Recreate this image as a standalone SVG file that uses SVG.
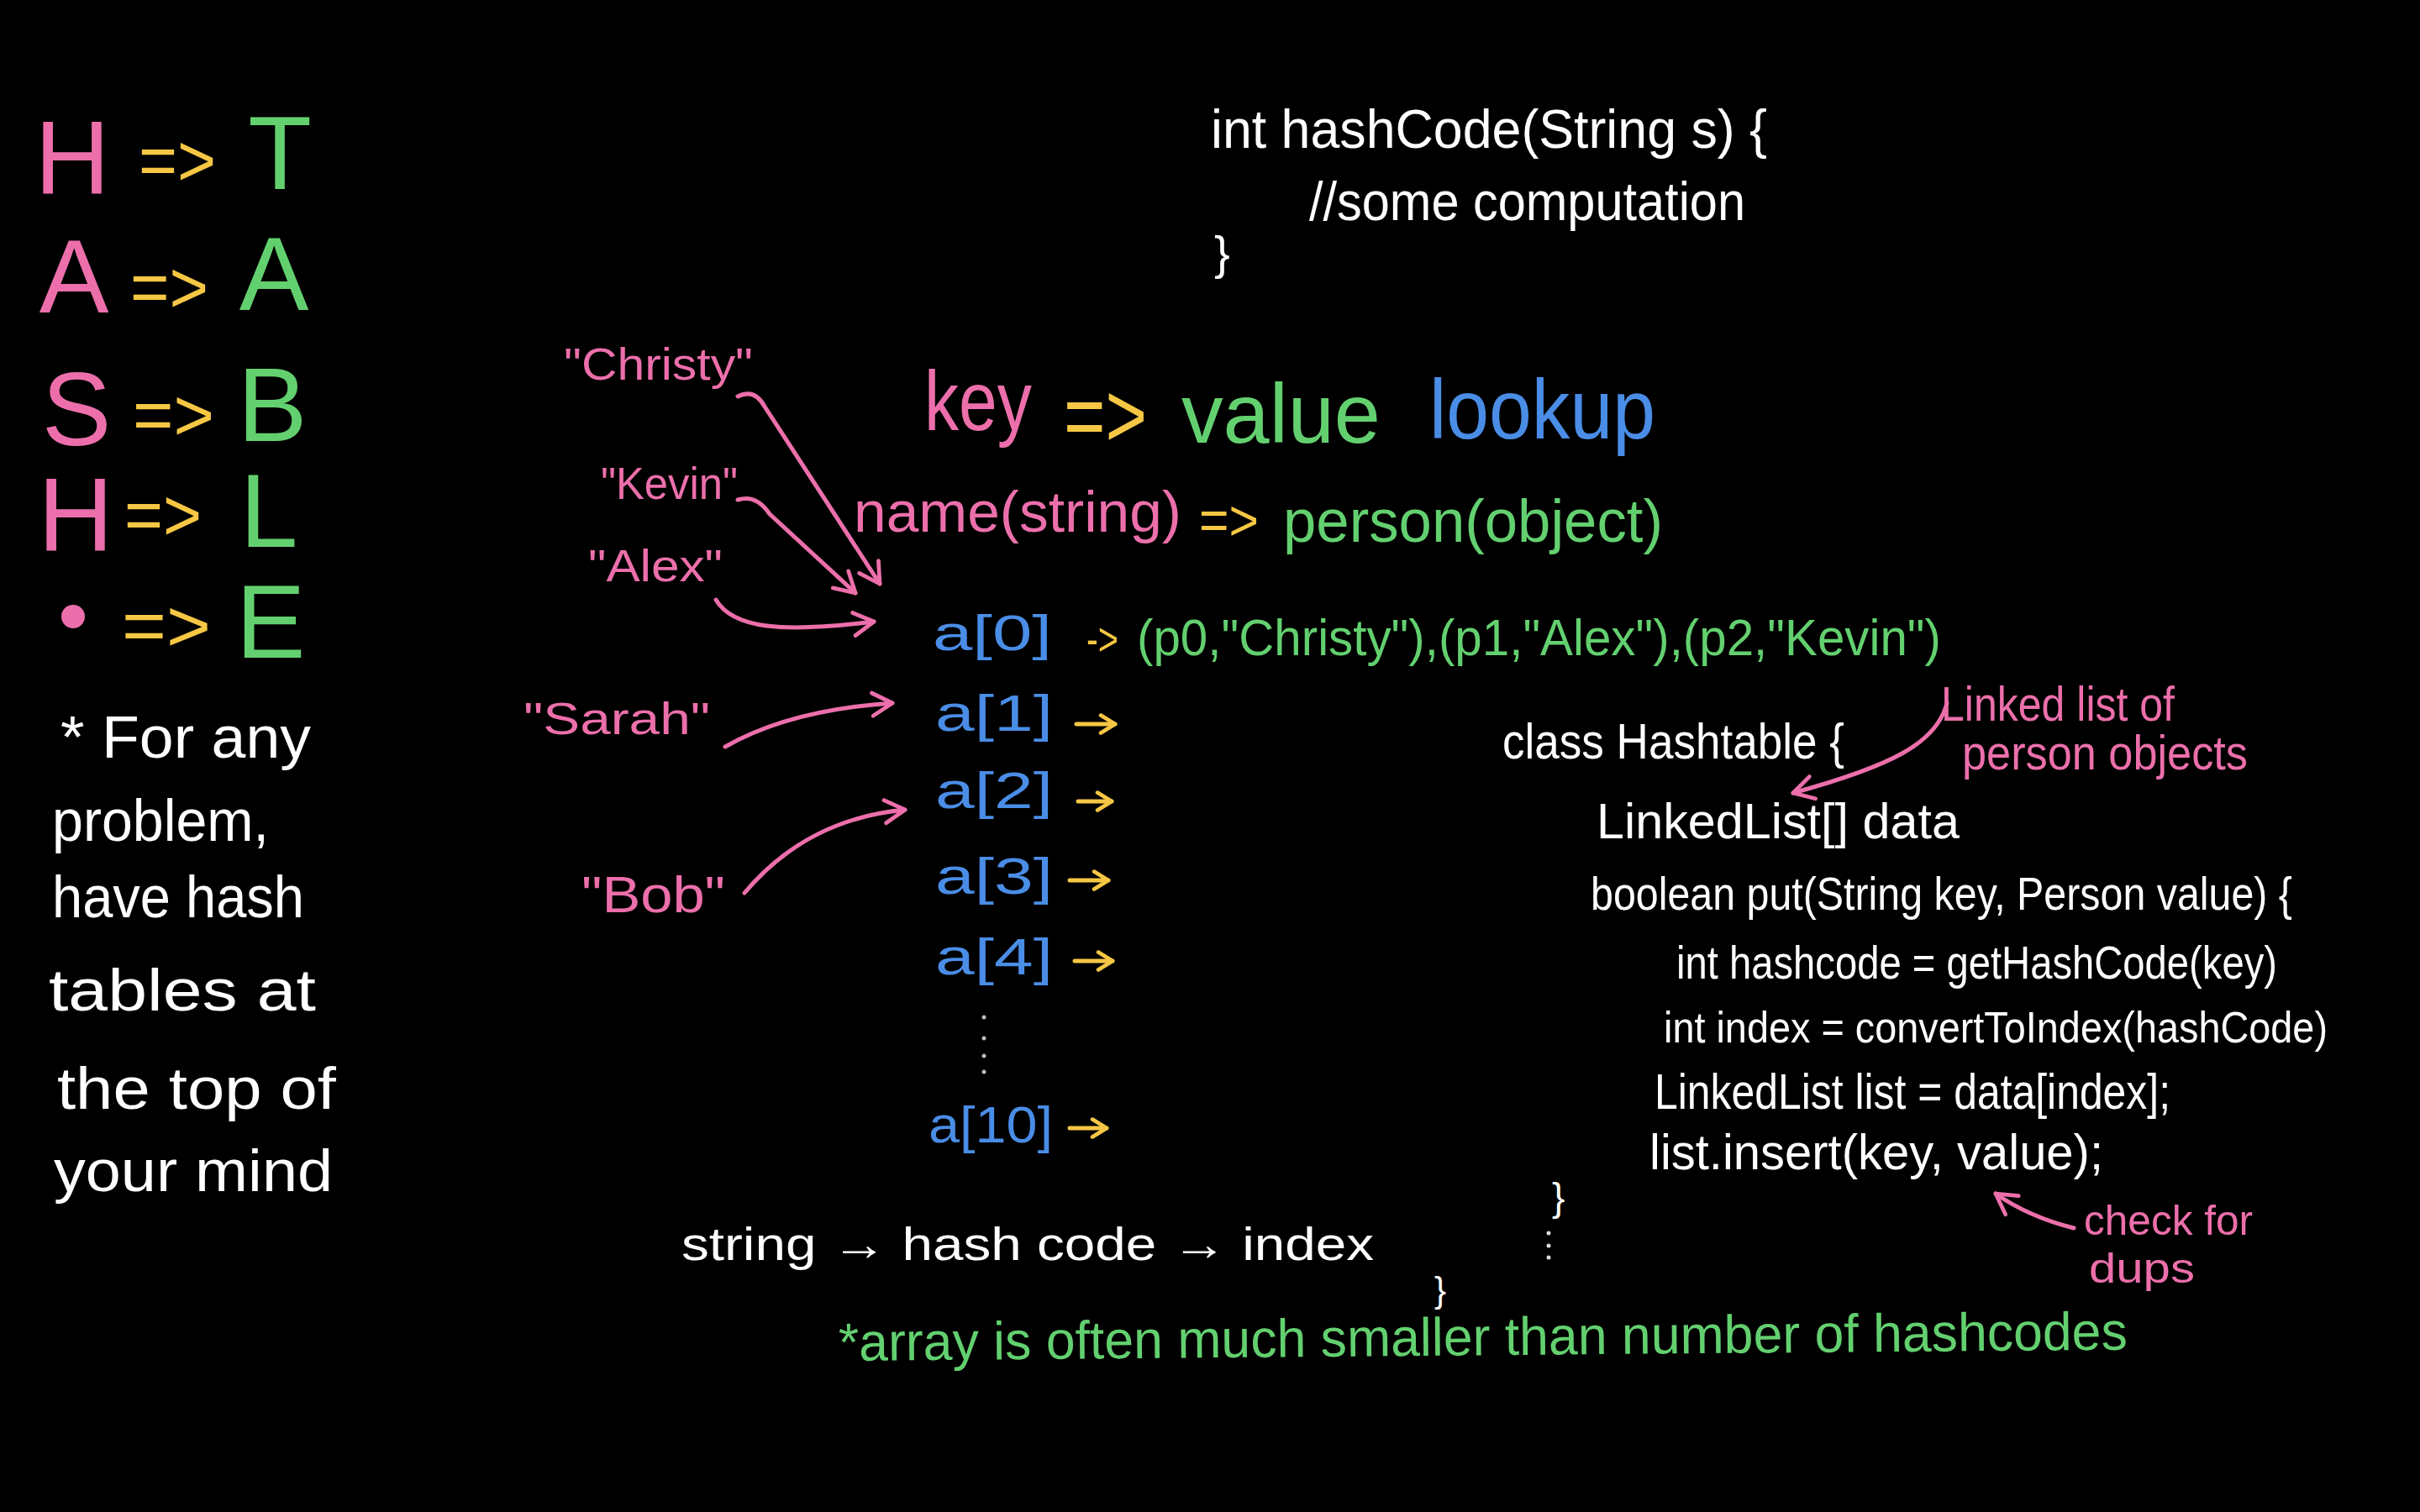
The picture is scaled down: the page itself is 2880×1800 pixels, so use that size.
<svg xmlns="http://www.w3.org/2000/svg" width="2880" height="1800" viewBox="0 0 2880 1800">
<defs>
<style>
text{font-family:"Liberation Sans","Noto Sans",Arial,sans-serif;}
.pk{fill:#EC6FAB}.yl{fill:#F6C744}.gr{fill:#63D06F}.bl{fill:#4A8DE6}.wh{fill:#FFFFFF}
.big{font-size:124px}
.arrowtxt{font-size:88px}
.note{font-size:70px}
.name{font-size:54px}
.slot{font-size:62px}
.code{font-size:60px}
.conn{fill:none;stroke:#EC6FAB;stroke-width:5;stroke-linecap:round;stroke-linejoin:round}
.yconn{fill:none;stroke:#F6C744;stroke-width:5;stroke-linecap:round}
</style>
<marker id="ahp" viewBox="0 0 20 20" refX="17" refY="10" markerWidth="34" markerHeight="34" markerUnits="userSpaceOnUse" orient="auto">
<path d="M3,2 L17,10 L3,18" fill="none" stroke="#EC6FAB" stroke-width="2.8" stroke-linecap="round" stroke-linejoin="round"/>
</marker>
<marker id="ahy" viewBox="0 0 20 20" refX="17" refY="10" markerWidth="26" markerHeight="26" markerUnits="userSpaceOnUse" orient="auto">
<path d="M4,2 L17,10 L4,18" fill="none" stroke="#F6C744" stroke-width="3.6" stroke-linecap="round" stroke-linejoin="round"/>
</marker>
</defs>
<rect width="2880" height="1800" fill="#000000"/>

<g id="acrostic">
<g id="row-h1"><text class="big pk" x="86" y="231" text-anchor="middle">H</text><text class="arrowtxt yl" x="165" y="221" textLength="92" lengthAdjust="spacingAndGlyphs">=&gt;</text><text class="big gr" x="333" y="225" text-anchor="middle">T</text></g>
<g id="row-a"><text class="big pk" x="88" y="372" text-anchor="middle">A</text><text class="arrowtxt yl" x="155" y="372" textLength="93" lengthAdjust="spacingAndGlyphs">=&gt;</text><text class="big gr" x="326" y="369" text-anchor="middle">A</text></g>
<g id="row-s"><text class="big pk" x="91" y="530" text-anchor="middle">S</text><text class="arrowtxt yl" x="158" y="524" textLength="97" lengthAdjust="spacingAndGlyphs">=&gt;</text><text class="big gr" x="324" y="525" text-anchor="middle">B</text></g>
<g id="row-h2"><text class="big pk" x="90" y="656" text-anchor="middle">H</text><text class="arrowtxt yl" x="148" y="643" textLength="92" lengthAdjust="spacingAndGlyphs">=&gt;</text><text class="big gr" x="320" y="651" text-anchor="middle">L</text></g>
<g id="row-dot"><circle cx="87" cy="734" r="14" fill="#EC6FAB"/><text class="arrowtxt yl" x="145" y="775" textLength="106" lengthAdjust="spacingAndGlyphs">=&gt;</text><text class="big gr" x="322" y="783" text-anchor="middle">E</text></g>
</g>

<g id="left-note" class="note wh">
<text x="72" y="902" textLength="298" lengthAdjust="spacingAndGlyphs">* For any</text>
<text x="62" y="1001" textLength="258" lengthAdjust="spacingAndGlyphs">problem,</text>
<text x="62" y="1092" textLength="300" lengthAdjust="spacingAndGlyphs">have hash</text>
<text x="58" y="1203" textLength="318" lengthAdjust="spacingAndGlyphs">tables at</text>
<text x="68" y="1320" textLength="332" lengthAdjust="spacingAndGlyphs">the top of</text>
<text x="64" y="1418" textLength="332" lengthAdjust="spacingAndGlyphs">your mind</text>
</g>

<g id="hashcode-func" class="code wh">
<text x="1441" y="176" font-size="64" textLength="662" lengthAdjust="spacingAndGlyphs">int hashCode(String s) {</text>
<text x="1558" y="262" font-size="64" textLength="519" lengthAdjust="spacingAndGlyphs">//some computation</text>
<text x="1445" y="320" font-size="56">}</text>
</g>

<g id="title">
<text class="pk" x="1100" y="512" font-size="100" textLength="128" lengthAdjust="spacingAndGlyphs">key</text>
<text class="yl" x="1266" y="532" font-size="110" textLength="99" lengthAdjust="spacingAndGlyphs">=&gt;</text>
<text class="gr" x="1406" y="527" font-size="100" textLength="237" lengthAdjust="spacingAndGlyphs">value</text>
<text class="bl" x="1701" y="522" font-size="100" textLength="269" lengthAdjust="spacingAndGlyphs">lookup</text>
</g>

<g id="subtitle">
<text class="pk" x="1016" y="633" font-size="68" textLength="390" lengthAdjust="spacingAndGlyphs">name(string)</text>
<text class="yl" x="1427" y="643" font-size="68" textLength="71" lengthAdjust="spacingAndGlyphs">=&gt;</text>
<text class="gr" x="1527" y="645" font-size="72" textLength="452" lengthAdjust="spacingAndGlyphs">person(object)</text>
</g>

<g id="keys" class="name pk">
<g id="key-christy"><text x="671" y="452" textLength="225" lengthAdjust="spacingAndGlyphs">"Christy"</text></g>
<g id="key-kevin"><text x="715" y="594" textLength="163" lengthAdjust="spacingAndGlyphs">"Kevin"</text></g>
<g id="key-alex"><text x="700" y="692" textLength="160" lengthAdjust="spacingAndGlyphs">"Alex"</text></g>
<g id="key-sarah"><text x="623" y="874" textLength="222" lengthAdjust="spacingAndGlyphs">"Sarah"</text></g>
<g id="key-bob"><text x="692" y="1086" font-size="62" textLength="171" lengthAdjust="spacingAndGlyphs">"Bob"</text></g>
</g>

<g id="array" class="slot bl">
<g id="slot-0"><text x="1110" y="774" font-size="60" textLength="142" lengthAdjust="spacingAndGlyphs">a[0]</text>
<text class="yl" x="1293" y="780" font-size="56" textLength="38" lengthAdjust="spacingAndGlyphs">-&gt;</text>
<text class="gr" x="1353" y="780" textLength="957" lengthAdjust="spacingAndGlyphs">(p0,"Christy"),(p1,"Alex"),(p2,"Kevin")</text></g>
<g id="slot-1"><text x="1113" y="870" textLength="140" lengthAdjust="spacingAndGlyphs">a[1]</text></g>
<g id="slot-2"><text x="1113" y="962" textLength="140" lengthAdjust="spacingAndGlyphs">a[2]</text></g>
<g id="slot-3"><text x="1113" y="1064" textLength="140" lengthAdjust="spacingAndGlyphs">a[3]</text></g>
<g id="slot-4"><text x="1113" y="1160" textLength="140" lengthAdjust="spacingAndGlyphs">a[4]</text></g>
<g id="slot-dots" fill="#BBBBBB"><circle cx="1171" cy="1211" r="2.5"/><circle cx="1171" cy="1236" r="2.5"/><circle cx="1171" cy="1257" r="2.5"/><circle cx="1171" cy="1276" r="2.5"/></g>
<g id="slot-10"><text x="1105" y="1360" textLength="148" lengthAdjust="spacingAndGlyphs">a[10]</text></g>
</g>

<g id="hashtable-class" class="code wh">
<text x="1788" y="903" textLength="407" lengthAdjust="spacingAndGlyphs">class Hashtable {</text>
<text x="1900" y="998" textLength="432" lengthAdjust="spacingAndGlyphs">LinkedList[] data</text>
<text x="1893" y="1083" font-size="56" textLength="835" lengthAdjust="spacingAndGlyphs">boolean put(String key, Person value) {</text>
<text x="1995" y="1165" font-size="56" textLength="715" lengthAdjust="spacingAndGlyphs">int hashcode = getHashCode(key)</text>
<text x="1980" y="1241" font-size="52" textLength="790" lengthAdjust="spacingAndGlyphs">int index = convertToIndex(hashCode)</text>
<text x="1969" y="1320" textLength="614" lengthAdjust="spacingAndGlyphs">LinkedList list = data[index];</text>
<text x="1963" y="1392" textLength="540" lengthAdjust="spacingAndGlyphs">list.insert(key, value);</text>
<text x="1847" y="1441" font-size="46">}</text>
<g fill="#DDDDDD"><circle cx="1843" cy="1468" r="2.5"/><circle cx="1843" cy="1483" r="2.5"/><circle cx="1843" cy="1497" r="2.5"/></g>
<text x="1707" y="1550" font-size="42">}</text>
</g>

<g id="note-linkedlist" class="pk" font-size="58">
<text x="2310" y="858" textLength="278" lengthAdjust="spacingAndGlyphs">Linked list of</text>
<text x="2335" y="916" textLength="340" lengthAdjust="spacingAndGlyphs">person objects</text>
</g>

<g id="note-dups" class="pk" font-size="50">
<text x="2480" y="1470" textLength="201" lengthAdjust="spacingAndGlyphs">check for</text>
<text x="2486" y="1527" textLength="126" lengthAdjust="spacingAndGlyphs">dups</text>
</g>

<g id="pipeline"><text class="wh" x="811" y="1500" font-size="56" textLength="824" lengthAdjust="spacingAndGlyphs">string → hash code → index</text></g>

<g id="note-array"><text class="gr" x="998" y="1620" font-size="64" textLength="1534" lengthAdjust="spacingAndGlyphs" transform="rotate(-0.5 998 1620)">*array is often much smaller than number of hashcodes</text></g>

<g id="connectors">
<path class="conn" d="M878,472 Q898,462 910,484 L1047,695" marker-end="url(#ahp)"/>
<path class="conn" d="M878,595 Q900,588 916,612 L1018,706" marker-end="url(#ahp)"/>
<path class="conn" d="M852,714 C872,748 930,754 1040,740" marker-end="url(#ahp)"/>
<path class="conn" d="M863,889 Q940,845 1062,837" marker-end="url(#ahp)"/>
<path class="conn" d="M886,1063 Q960,975 1077,964" marker-end="url(#ahp)"/>
<path class="conn" d="M2317,837 C2305,885 2250,912 2134,944" marker-end="url(#ahp)"/>
<path class="conn" d="M2468,1462 C2440,1455 2405,1442 2375,1421" marker-end="url(#ahp)"/>
<path class="yconn" d="M1281,862 L1327,862" marker-end="url(#ahy)"/>
<path class="yconn" d="M1283,954 L1323,954" marker-end="url(#ahy)"/>
<path class="yconn" d="M1273,1048 L1319,1048" marker-end="url(#ahy)"/>
<path class="yconn" d="M1279,1144 L1324,1144" marker-end="url(#ahy)"/>
<path class="yconn" d="M1273,1343 L1317,1343" marker-end="url(#ahy)"/>
</g>
</svg>
